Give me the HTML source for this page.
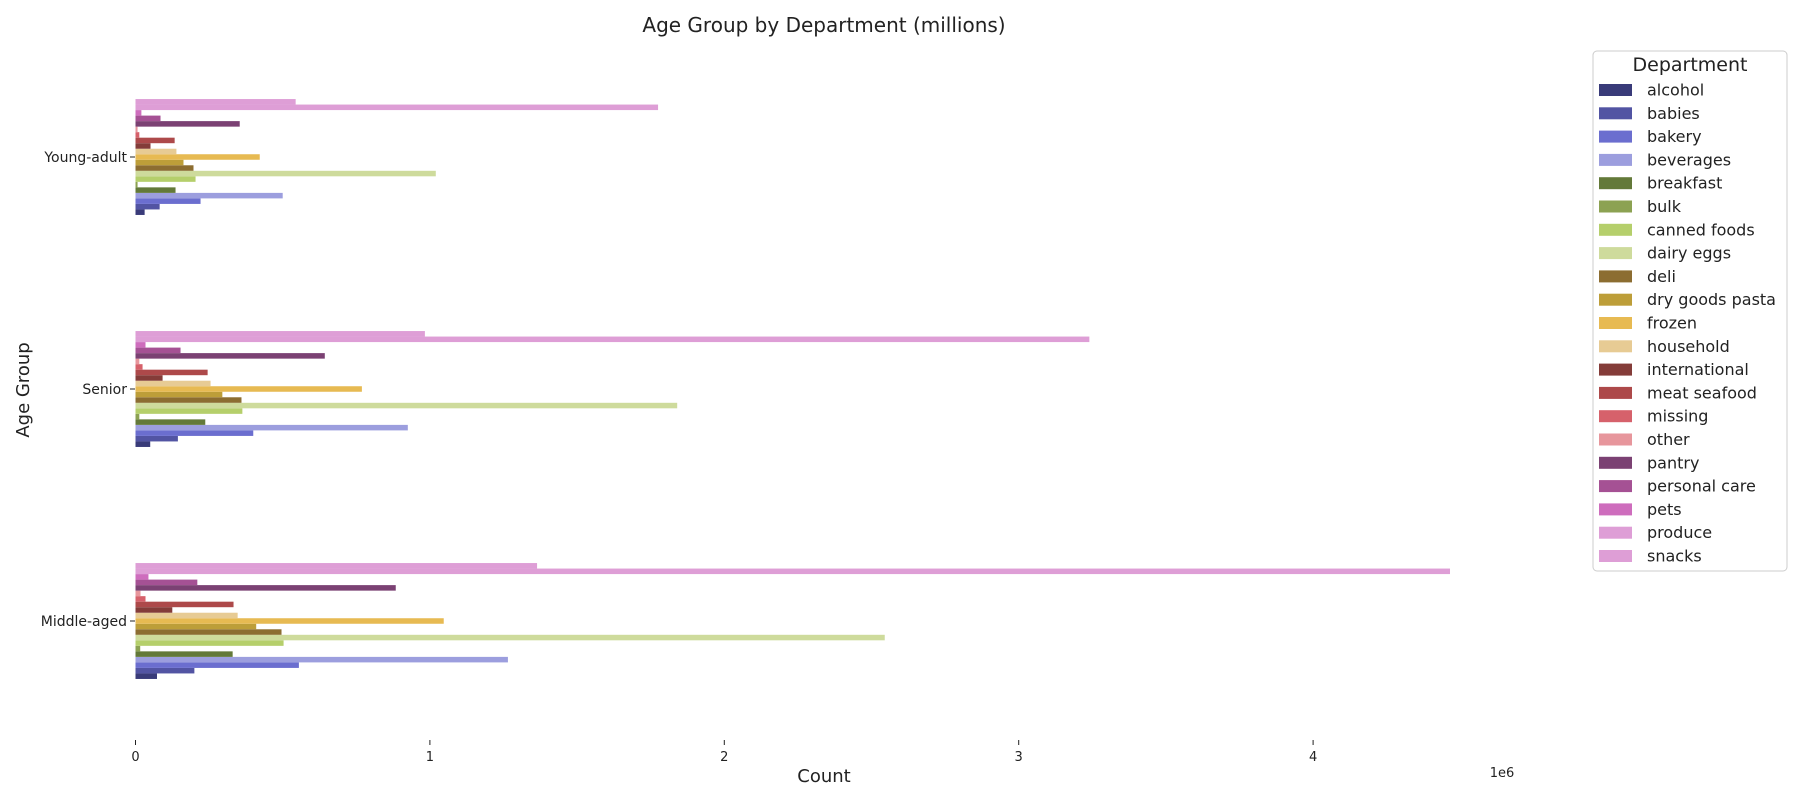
<!DOCTYPE html>
<html><head><meta charset="utf-8"><style>
body{margin:0;background:#fff;}
svg text{font-family:"DejaVu Sans","Liberation Sans",sans-serif;fill:#222;}
</style></head><body>
<svg id="chart" width="1800" height="800" xmlns="http://www.w3.org/2000/svg">
<text x="824" y="32" font-size="20" text-anchor="middle">Age Group by Department (millions)</text>
<text x="824" y="782" font-size="18" text-anchor="middle">Count</text>
<text x="0" y="0" font-size="18" text-anchor="middle" transform="translate(29,390) rotate(-90)">Age Group</text>
<text x="1502" y="777" font-size="13" text-anchor="middle">1e6</text>
<g id="bars"></g>
<g id="axes"></g>
<g id="legend">
<rect x="1593" y="51" width="194" height="520" rx="4" fill="#fff" stroke="#ccc"/>
<text x="1690" y="71" font-size="19" text-anchor="middle">Department</text>
</g>
</svg>
<script>
const groups = ["Young-adult","Senior","Middle-aged"];
const departments = ["alcohol","babies","bakery","beverages","breakfast","bulk","canned foods","dairy eggs","deli","dry goods pasta","frozen","household","international","meat seafood","missing","other","pantry","personal care","pets","produce","snacks"];
const youngAdult = [0.031,0.082,0.221,0.50,0.136,0.007,0.204,1.02,0.197,0.163,0.422,0.139,0.051,0.133,0.013,0.007,0.354,0.085,0.02,1.775,0.544];
const senior = [0.05,0.144,0.40,0.925,0.237,0.013,0.363,1.84,0.36,0.295,0.769,0.255,0.092,0.245,0.024,0.013,0.643,0.153,0.034,3.24,0.983];
const middleAged = [0.073,0.20,0.555,1.265,0.33,0.016,0.503,2.545,0.496,0.41,1.047,0.347,0.125,0.333,0.034,0.017,0.884,0.21,0.044,4.465,1.364];
const xTicks = [0,1,2,3,4];
const colors = ["#393b79","#5254a3","#6b6ecf","#9c9ede","#637939","#8ca252","#b5cf6b","#cedb9c","#8c6d31","#bd9e39","#e7ba52","#e7cb94","#843c39","#ad494a","#d6616b","#e7969c","#7b4173","#a55194","#ce6dbd","#de9ed6","#de9ed6"];
const NS="http://www.w3.org/2000/svg";
const x = v => 135.5 + v*294.4;
const yc = g => 157 + g*232;
const bh = 5.52;
const series=[youngAdult,senior,middleAged];
const bars=document.getElementById('bars');
series.forEach((vals,g)=>{
  vals.forEach((v,i)=>{
    const r=document.createElementNS(NS,'rect');
    r.setAttribute('x',x(0));
    r.setAttribute('y',yc(g)+(10-i)*bh-bh/2);
    r.setAttribute('width',x(v)-x(0));
    r.setAttribute('height',bh);
    r.setAttribute('fill',colors[i]);
    
    
    bars.appendChild(r);
  });
});
const axes=document.getElementById('axes');
groups.forEach((gname,g)=>{
  const t=document.createElementNS(NS,'text');
  t.setAttribute('x',127);t.setAttribute('y',yc(g)+5);
  t.setAttribute('font-size','14');t.setAttribute('text-anchor','end');
  t.textContent=gname;
  
  
  axes.appendChild(t);
  const l=document.createElementNS(NS,'line');
  l.setAttribute('x1',130);l.setAttribute('x2',135);l.setAttribute('y1',yc(g));l.setAttribute('y2',yc(g));
  l.setAttribute('stroke','#222');
  
  
  axes.appendChild(l);
});
xTicks.forEach(v=>{
  const l=document.createElementNS(NS,'line');
  l.setAttribute('x1',x(v));l.setAttribute('x2',x(v));l.setAttribute('y1',740);l.setAttribute('y2',745);
  l.setAttribute('stroke','#222');
  
  
  axes.appendChild(l);
  const t=document.createElementNS(NS,'text');
  t.setAttribute('x',x(v));t.setAttribute('y',761);
  t.setAttribute('font-size','13');t.setAttribute('text-anchor','middle');
  t.textContent=v;
  
  
  axes.appendChild(t);
});
const legend=document.getElementById('legend');
departments.forEach((d,i)=>{
  const cy=90+i*23.3;
  const r=document.createElementNS(NS,'rect');
  r.setAttribute('x',1599);r.setAttribute('y',cy-6);r.setAttribute('width',33);r.setAttribute('height',12);
  r.setAttribute('fill',colors[i]);
  
  
  legend.appendChild(r);
  const t=document.createElementNS(NS,'text');
  t.setAttribute('x',1647);t.setAttribute('y',cy+5.5);t.setAttribute('font-size','16');
  t.textContent=d;
  
  
  legend.appendChild(t);
});
</script>
</body></html>
